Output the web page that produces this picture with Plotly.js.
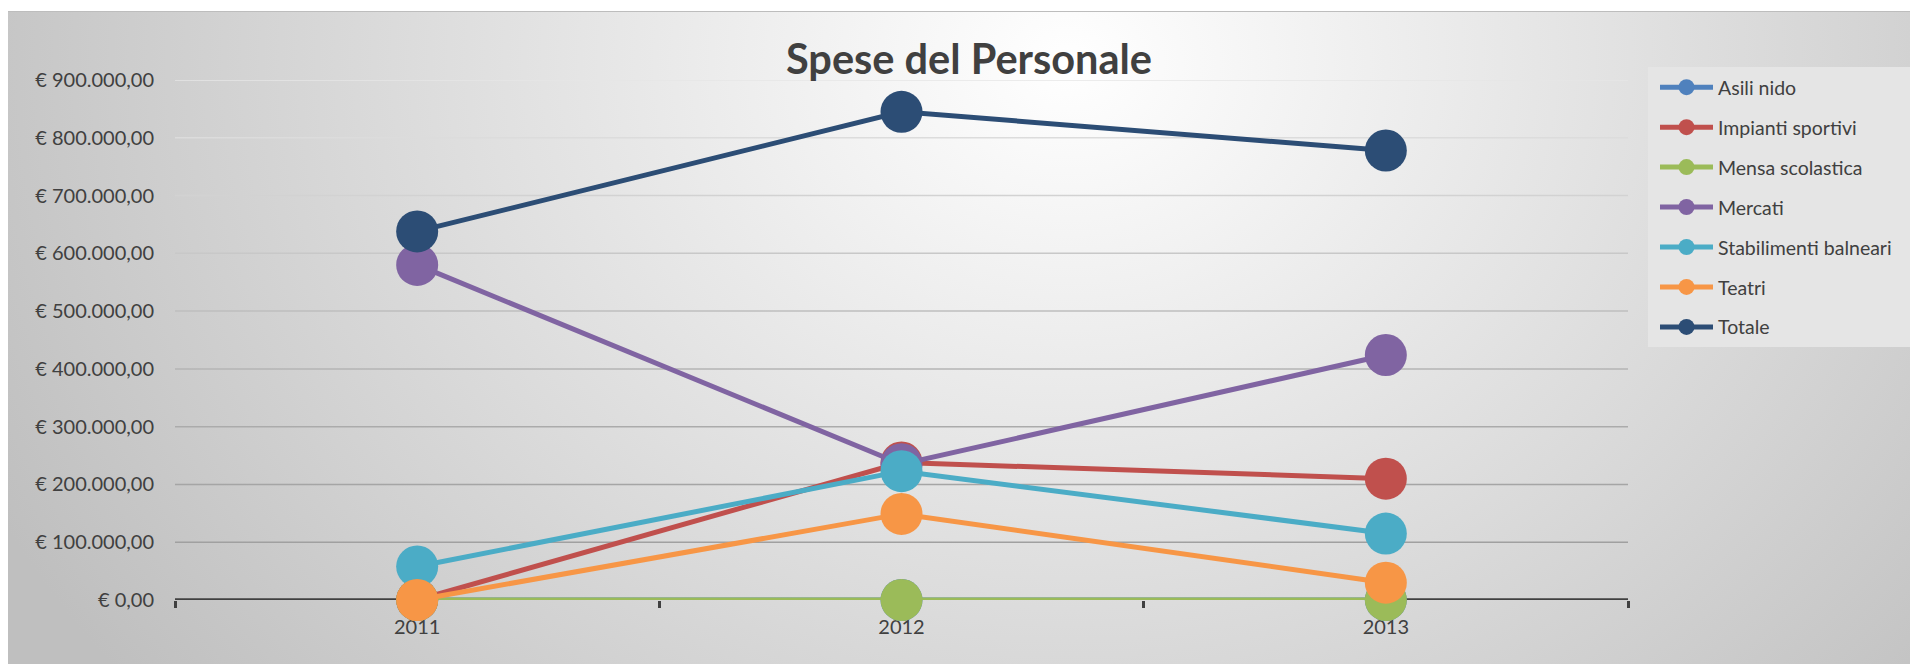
<!DOCTYPE html>
<html>
<head>
<meta charset="utf-8">
<script src="https://cdn.plot.ly/plotly-3.0.1.min.js"></script>
<style>
  html, body { margin: 0; padding: 0; background: #ffffff; width: 1910px; height: 664px; overflow: hidden; }
  #bg {
    position: absolute; left: 8px; top: 11px; width: 1902px; height: 653px;
    background: radial-gradient(ellipse 1200px 1000px at 1060px 50px, #ffffff 0%, #bfbfbf 100%);
    border-top: 1px solid #bdbdbd;
  }
  #chart { position: absolute; left: 0; top: 0; width: 1910px; height: 664px; }
</style>
</head>
<body>
<div id="bg"></div>
<div id="chart"></div>
<script>
// ---- data ----
const years = ['2011', '2012', '2013'];
const seriesNames = ['Asili nido', 'Impianti sportivi', 'Mensa scolastica', 'Mercati', 'Stabilimenti balneari', 'Teatri', 'Totale'];
const asiliNido = [0, 0, 0];
const impiantiSportivi = [0, 238000, 210000];
const mensaScolastica = [0, 0, 0];
const mercati = [580000, 235000, 424000];
const stabilimentiBalneari = [58000, 223000, 115000];
const teatri = [0, 149000, 30000];
const totale = [638000, 845000, 778000];
const chartTitle = 'Spese del Personale';
const gridTicks = [100000, 200000, 300000, 400000, 500000, 600000, 700000, 800000, 900000];
const axisBase = 0;

// ---- styling ----
const colors = ['#4F81BD', '#C0504D', '#9BBB59', '#8064A2', '#4BACC6', '#F79646', '#2C4D75'];
// gridlines fade from darker (bottom) to lighter (top), as in the reference
const gridColors = ['#a0a0a0', '#a5a5a5', '#ababab', '#b4b4b4', '#bebebe', '#c8c8c8', '#d2d2d2', '#dcdcdc', '#e6e6e6'];
const values = [asiliNido, impiantiSportivi, mensaScolastica, mercati, stabilimentiBalneari, teatri, totale];
const yRange = [0, 900000];

const traces = seriesNames.map((name, i) => ({
  type: 'scatter',
  mode: 'lines+markers',
  name: name,
  x: years,
  y: values[i],
  legendgroup: 'g' + i,
  line: { color: colors[i], width: 5 },
  marker: { color: colors[i], size: 42, line: { width: 0 } },
  cliponaxis: false,
  hoverinfo: 'skip'
}));

const W = 1910, H = 664;
const mL = 175, mR = 282, mT = 80, mB = 64;
const pw = W - mL - mR, ph = H - mT - mB;
const px2x = px => (px - mL) / pw;
const px2y = py => (H - mB - py) / ph;

// gridlines: one per tick value, placed through the y axis scale
const gridShapes = gridTicks.map((v, k) => ({
  type: 'line', xref: 'paper', yref: 'y', layer: 'below',
  x0: 0, x1: 1, y0: v, y1: v,
  line: { color: gridColors[k], width: 1.5 }
}));

// horizontal axis line at zero, under the series (so the zero-valued series shows on it)
const baseLine = {
  type: 'line', xref: 'paper', yref: 'y', layer: 'below',
  x0: 0, x1: 1, y0: axisBase, y1: axisBase,
  line: { color: '#404040', width: 3.5 }
};

const legendBox = {
  type: 'rect', xref: 'paper', yref: 'paper', layer: 'below',
  x0: px2x(1648), x1: px2x(1915), y0: px2y(347), y1: px2y(67),
  fillcolor: '#e5e5e5', line: { width: 0 }
};

const layout = {
  width: W, height: H,
  margin: { l: mL, r: mR, t: mT, b: mB, pad: 0, autoexpand: false },
  paper_bgcolor: 'rgba(0,0,0,0)',
  plot_bgcolor: 'rgba(0,0,0,0)',
  separators: ',.',
  font: { family: 'Lato, "Open Sans", sans-serif', color: '#404040' },
  title: {
    text: '<b>' + chartTitle + '</b>',
    font: { family: 'Lato, "Open Sans", sans-serif', size: 41.5, color: '#404040' },
    xref: 'container', yref: 'container',
    x: 969 / W, xanchor: 'center',
    y: 1 - 59 / H, yanchor: 'middle'
  },
  xaxis: {
    type: 'category',
    range: [-0.5, years.length - 0.5],
    showline: false,
    ticks: 'outside', tickson: 'boundaries', ticklen: 7, tickwidth: 3, tickcolor: '#404040',
    showgrid: false, zeroline: false,
    tickfont: { size: 20, color: '#404040' },
    ticklabelstandoff: 13,
    layer: 'below traces',
    fixedrange: true
  },
  yaxis: {
    range: yRange,
    tick0: 0, dtick: 100000,
    tickprefix: '€ ', tickformat: ',.2f',
    showgrid: false,
    zeroline: false,
    showline: false, ticks: '',
    tickfont: { size: 20, color: '#404040' },
    ticklabelstandoff: 20,
    layer: 'below traces',
    fixedrange: true
  },
  shapes: [legendBox].concat(gridShapes, [baseLine]),
  showlegend: true,
  legend: {
    x: px2x(1655), xanchor: 'left',
    y: px2y(68), yanchor: 'top',
    bgcolor: 'rgba(0,0,0,0)', borderwidth: 0,
    font: { family: 'Lato, "Open Sans", sans-serif', size: 19.5, color: '#404040' },
    itemwidth: 53,
    tracegroupgap: 11.6,
    traceorder: 'grouped',
    itemclick: false, itemdoubleclick: false
  },
  hovermode: false
};

Plotly.newPlot('chart', traces, layout, { displayModeBar: false, staticPlot: true });
</script>
</body>
</html>
